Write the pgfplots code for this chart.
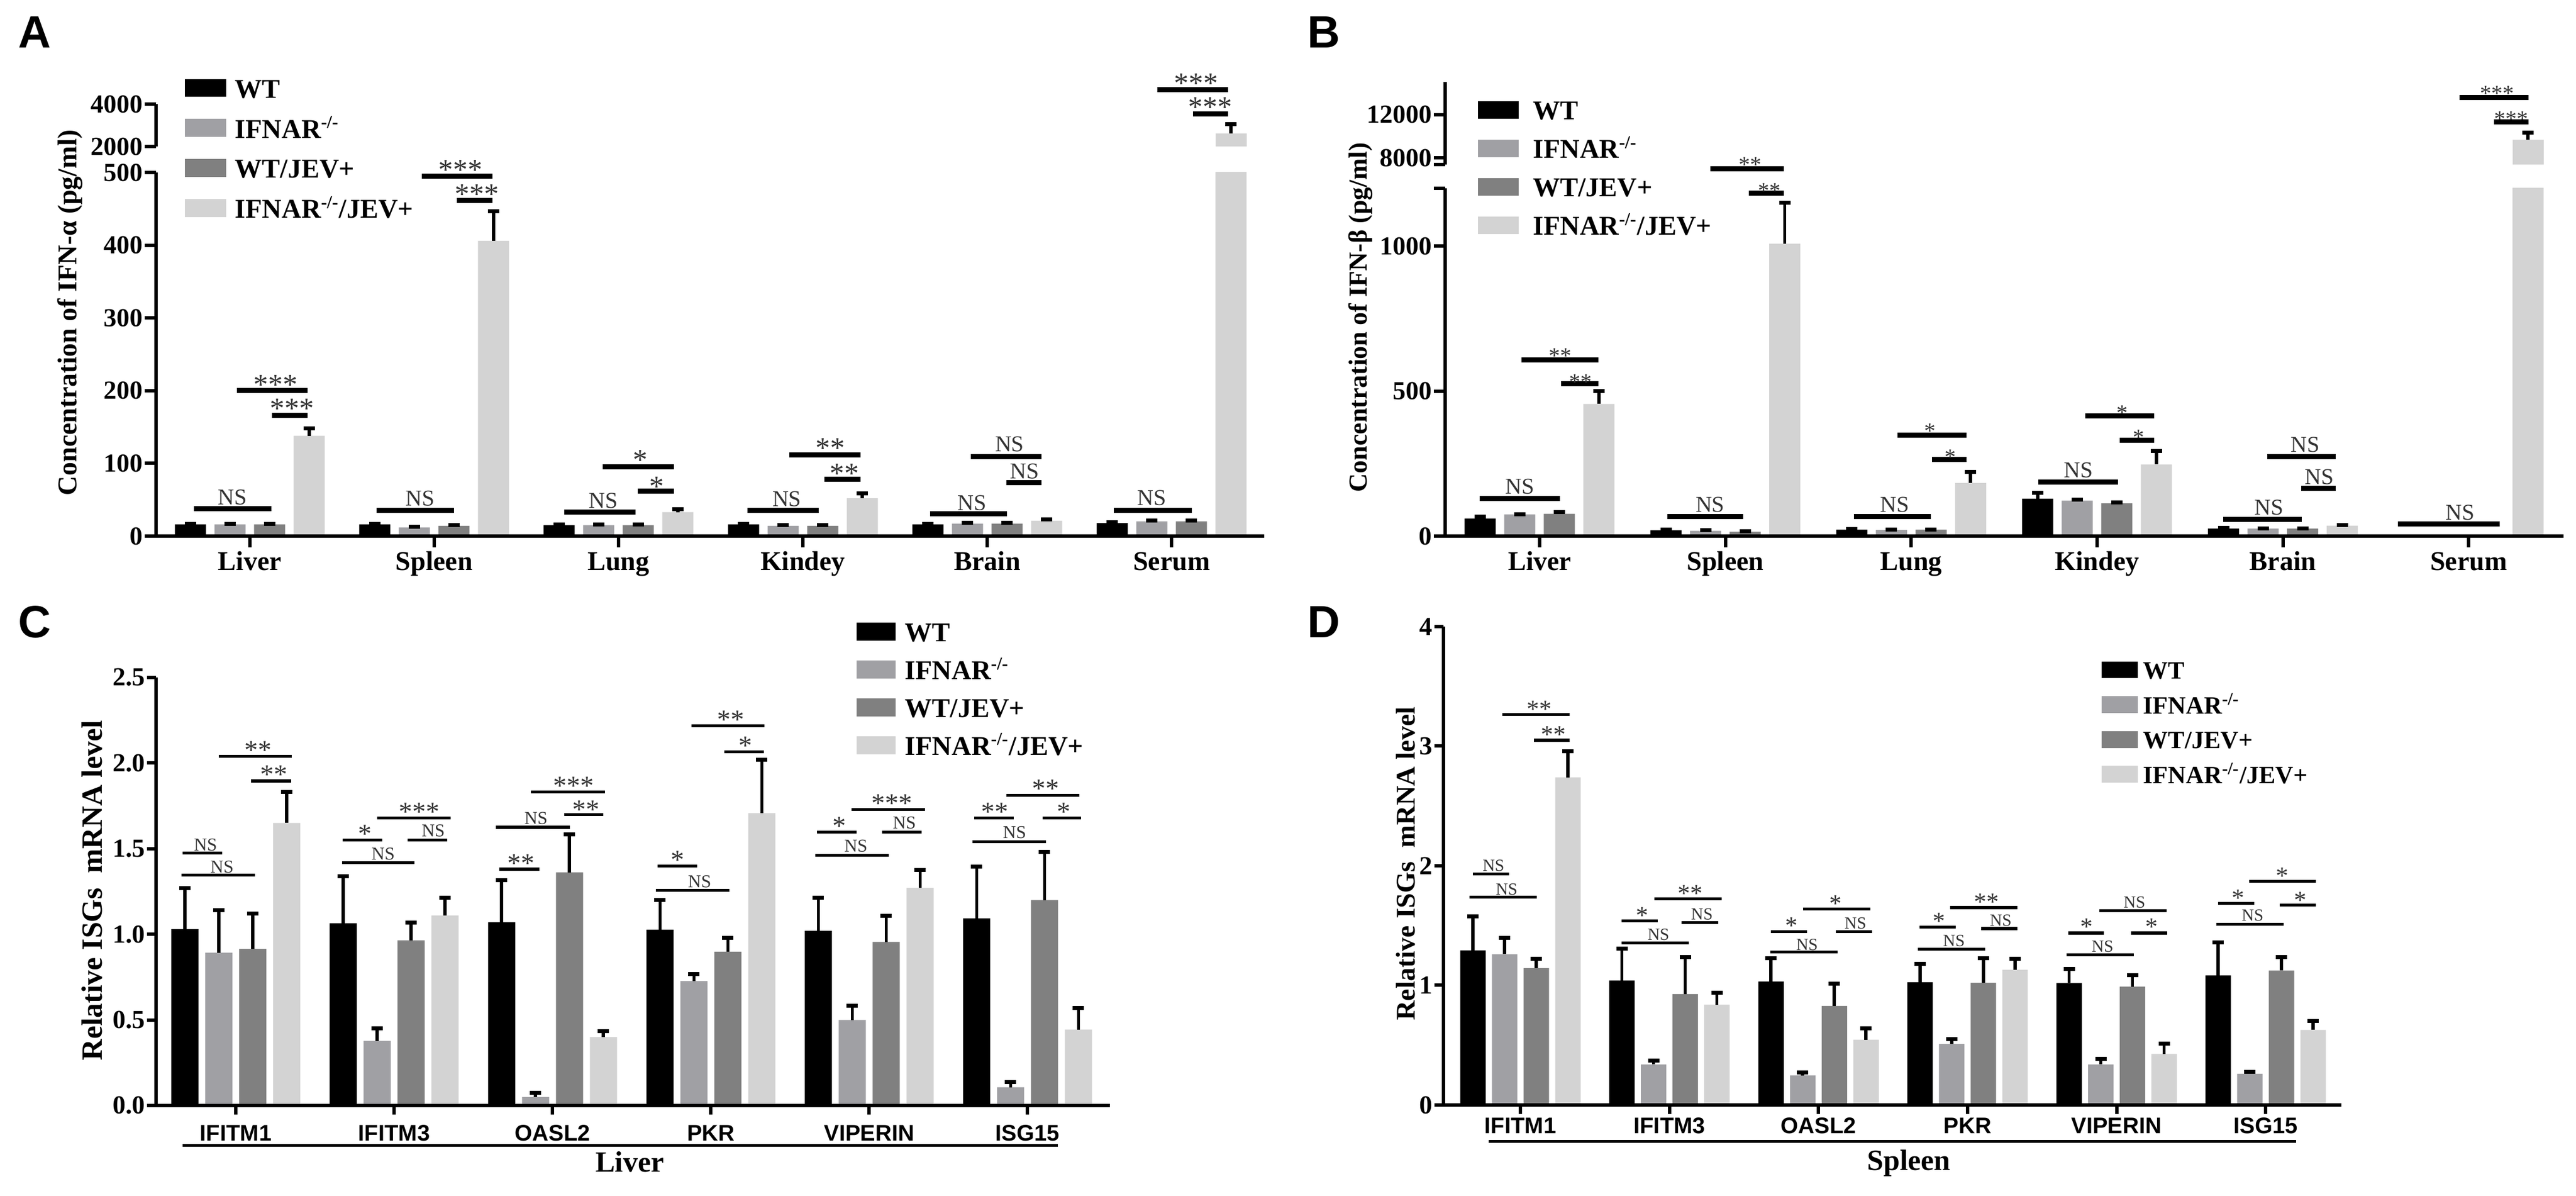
\documentclass[border=0pt]{standalone}
\usepackage{fontspec}
\setmainfont{Liberation Serif}
\setsansfont{Liberation Sans}
\usepackage{pgfplots}
\usepackage{pgfplotstable}
\pgfplotsset{compat=1.18}
\definecolor{cA}{HTML}{000000}
\definecolor{cB}{HTML}{A0A0A4}
\definecolor{cC}{HTML}{808080}
\definecolor{cD}{HTML}{D3D3D3}
\pgfplotstableread{
x wt wtE ko koE wj wjE kj kjE
0 16 1 16 1 16 1 138 10
1 16 1 12 1 14 1 406 41
2 15 1 15 1 15 1 33 4
3 16 1 14 1 14 1 52 7
4 16 1 17 1 17 1 21 2
5 18 1 20 1.5 20 1 2613 427
}\tabA
\pgfplotstableread{
x wt wtE ko koE wj wjE kj kjE
0 60 7 75 1 77 6 456 44
1 20 3 18 3 15 1 1009 142
2 22 3 21 1 22 1 183 39
3 129 20 122 4 113 4 247 47
4 26 2 26 1 26 1 36 2
5 nan nan nan nan nan nan 9700 636
}\tabB
\pgfplotstableread{
x wt wtE ko koE wj wjE kj kjE
0 1.03 0.24 0.893 0.247 0.915 0.205 1.65 0.18
1 1.065 0.275 0.378 0.072 0.965 0.102 1.11 0.105
2 1.07 0.245 0.05 0.023 1.362 0.22 0.40 0.033
3 1.027 0.173 0.727 0.04 0.898 0.082 1.707 0.311
4 1.02 0.195 0.50 0.082 0.956 0.151 1.271 0.105
5 1.093 0.303 0.107 0.031 1.20 0.282 0.444 0.125
}\tabC
\pgfplotstableread{
x wt wtE ko koE wj wjE kj kjE
0 1.293 0.283 1.261 0.134 1.143 0.077 2.739 0.216
1 1.041 0.265 0.338 0.031 0.927 0.309 0.838 0.101
2 1.032 0.194 0.248 0.023 0.828 0.185 0.545 0.095
3 1.025 0.153 0.51 0.041 1.022 0.207 1.131 0.089
4 1.019 0.118 0.338 0.047 0.99 0.096 0.427 0.086
5 1.083 0.274 0.261 0.016 1.124 0.112 0.627 0.073
}\tabD
\newcommand{\fs}[1]{\fontsize{#1}{#1}\selectfont}
\pgfplotsset{
  sbar/.style={fill=#1,draw=none,
    error bars/.cd,y dir=plus,y explicit,
    error bar style={draw=black,line width=1.4pt},
    error mark options={rotate=90,draw=black,line width=1.75pt,mark size=2.5pt}},
  panel/.style={scale only axis,clip=true,axis on top,
    axis x line=bottom,axis y line=left,
    axis line style={-,line width=1.5pt,black},
    tick style={black,line width=1.5pt},
    tick align=outside,major tick length=5pt,
    minor tick num=0,ymin=0,scaled y ticks=false,
    yticklabel style={font=\bfseries\fs{11.5},inner sep=0.6pt},
    xticklabel style={inner sep=1pt},
    xtick={0,1,2,3,4,5}},
  upper/.style={scale only axis,clip=true,
    axis x line=none,axis y line=left,scaled y ticks=false,
    axis line style={-,line width=1.5pt,black},
    tick style={black,line width=1.5pt},
    tick align=outside,major tick length=5pt,
    yticklabel style={font=\bfseries\fs{11.5},inner sep=0.6pt},
    xtick=\empty},
  over/.style={scale only axis,hide axis,clip=false,
    xmin=0,xmax=1568,ymin=0,ymax=1568,y dir=reverse,
    legend cell align=left},
  lg/.style n args={5}{legend style={at={(#1,#2)},anchor=north west,draw=none,fill=none,
      inner sep=0pt,outer sep=0pt,column sep=#5,row sep=#4,
      font=\bfseries\fs{#3},
      nodes={inner sep=0pt,outer sep=0pt,text height=0.75*#3 pt,text depth=0.2*#3 pt}}},
}
\newcommand{\four}[1]{%
  \addplot[sbar=cA] table[x=x,y=wt,y error=wtE]{#1};
  \addplot[sbar=cB] table[x=x,y=ko,y error=koE]{#1};
  \addplot[sbar=cC] table[x=x,y=wj,y error=wjE]{#1};
  \addplot[sbar=cD] table[x=x,y=kj,y error=kjE]{#1};}
\newcommand{\topbar}[3]{%
  \addplot[bar shift=#3,restrict y to domain=#2:100000,sbar=cD] table[x=x,y=kj,y error=kjE]{#1};}
% swatch: width, height; centred a little below the baseline
\newcommand{\legs}[3]{%
  \addlegendimage{legend image code/.code={\fill[cA] (0pt,#3) rectangle (#1,#2);}}
  \addlegendentry{WT}
  \addlegendimage{legend image code/.code={\fill[cB] (0pt,#3) rectangle (#1,#2);}}
  \addlegendentry{IFNAR\textsuperscript{-/-}}
  \addlegendimage{legend image code/.code={\fill[cC] (0pt,#3) rectangle (#1,#2);}}
  \addlegendentry{WT/JEV+}
  \addlegendimage{legend image code/.code={\fill[cD] (0pt,#3) rectangle (#1,#2);}}
  \addlegendentry{IFNAR\textsuperscript{-/-}/JEV+}}
% x1 x2 y label lx ly
\newcommand{\st}[6]{\draw[line width=\brw] (axis cs:#1,#3)--(axis cs:#2,#3);
  \node[anchor=base,inner sep=0pt,text=black!80,font=\fs{\stsize},yshift=-0.47*\stsize pt] at (axis cs:#5,#6) {#4};}
\newcommand{\ns}[6]{\draw[line width=\brw] (axis cs:#1,#3)--(axis cs:#2,#3);
  \node[anchor=base,inner sep=0pt,text=black!80,font=\fs{\nssize},yshift=-0.33*\nssize pt] at (axis cs:#5,#6) {#4};}
\begin{document}
\begin{tikzpicture}
\path[use as bounding box] (0,0) rectangle (1139pt,528.75pt);
%---------- A
\begin{axis}[panel,at={(69pt,291.75pt)},anchor=south west,width=490pt,height=160.75pt,
  xmin=-0.509,xmax=5.503,ymax=500,ybar=3.75pt,bar width=13.75pt,
  ytick={0,100,200,300,400,500},yticklabels={0,100,200,300,400,500},
  xticklabels={Liver,Spleen,Lung,Kindey,Brain,Serum},
  xticklabel style={font=\bfseries\fs{12},text height=9pt,text depth=2.5pt,inner sep=1pt}]
\four{\tabA}
\end{axis}
\begin{axis}[upper,at={(69pt,464pt)},anchor=south west,width=490pt,height=18.75pt,
  xmin=-0.509,xmax=5.503,ymin=2000,ymax=4000,ybar=3.75pt,bar width=13.75pt,
  ytick={2000,4000},yticklabels={2000,4000}]
\topbar{\tabA}{2000}{26.25pt}
\end{axis}
\def\brw{2.25pt}\def\stsize{13}\def\nssize{10}
\begin{axis}[over,at={(0pt,263.75pt)},anchor=south west,width=570pt,height=265pt,
  lg={0.1435}{0.8705}{12}{6.3pt}{4pt}]
\legs{17.75pt}{4.9pt}{-2.6pt}
\node[anchor=base west,inner sep=0pt,font=\sffamily\bfseries\fs{20}] at (axis cs:22,125) {A};
\node[rotate=90,inner sep=0pt,font=\bfseries\fs{12}] at (axis cs:85,818) {Concentration of IFN-α (pg/ml)};
\ns{236}{330}{1330}{NS}{283}{1300}
\st{288}{374}{1022}{***}{335}{995}
\st{331}{374}{1086}{***}{355}{1058}
\ns{458}{552}{1335}{NS}{511}{1303}
\st{513}{599}{461}{***}{560}{433}
\st{556}{599}{525}{***}{580}{497}
\ns{686}{773}{1340}{NS}{734}{1310}
\st{733}{820}{1221}{*}{779}{1192}
\st{776}{820}{1285}{*}{799}{1262}
\ns{909}{996}{1335}{NS}{957}{1305}
\st{960}{1047}{1190}{**}{1010}{1162}
\st{1003}{1047}{1254}{**}{1027}{1228}
\ns{1131}{1225}{1344}{NS}{1182}{1315}
\ns{1181}{1267}{1194}{NS}{1228}{1162}
\ns{1224}{1267}{1262}{NS}{1246}{1233}
\ns{1355}{1450}{1335}{NS}{1401}{1302}
\st{1408}{1494}{235}{***}{1455}{207}
\st{1451}{1494}{298}{***}{1472}{270}
\end{axis}
%---------- B
\begin{axis}[panel,at={(639pt,291.75pt)},anchor=south west,width=494.5pt,height=153.75pt,
  xmin=-0.508,xmax=5.511,ymax=1200,ybar=3.75pt,bar width=13.75pt,
  ytick={0,500,1000,1200},yticklabels={0,500,1000,},
  xticklabels={Liver,Spleen,Lung,Kindey,Brain,Serum},
  xticklabel style={font=\bfseries\fs{12},text height=9pt,text depth=2.5pt,inner sep=1pt}]
\four{\tabB}
\end{axis}
\begin{axis}[upper,at={(639pt,456pt)},anchor=south west,width=494.5pt,height=36.5pt,
  xmin=-0.508,xmax=5.511,ymin=7400,ymax=15000,ybar=3.75pt,bar width=13.75pt,
  ytick={7400,8000,12000},yticklabels={,8000,12000}]
\topbar{\tabB}{7400}{26.25pt}
\end{axis}
\def\brw{2.25pt}\def\stsize{10}\def\nssize{10}
\begin{axis}[over,at={(570pt,263.75pt)},anchor=south west,width=569pt,height=265pt,
  lg={0.1467}{0.834}{12}{5.6pt}{6.5pt}]
\legs{17.5pt}{4.8pt}{-2.5pt}
\node[anchor=base west,inner sep=0pt,font=\sffamily\bfseries\fs{20}] at (axis cs:22,125) {B};
\node[rotate=90,inner sep=0pt,font=\bfseries\fs{11.5}] at (axis cs:87,830) {Concentration of IFN-β (pg/ml)};
\ns{232}{330}{1304}{NS}{281}{1272}
\st{283}{377}{941}{**}{330}{922}
\st{331}{377}{1004}{**}{355}{990}
\ns{461}{553}{1351}{NS}{513}{1320}
\st{513}{603}{441}{**}{562}{423}
\st{560}{603}{505}{**}{585}{490}
\ns{688}{782}{1351}{NS}{738}{1320}
\st{741}{825}{1138}{*}{781}{1120}
\st{783}{825}{1202}{*}{806}{1188}
\ns{913}{1010}{1261}{NS}{962}{1230}
\st{970}{1054}{1088}{*}{1015}{1072}
\st{1012}{1054}{1151}{*}{1035}{1136}
\ns{1138}{1234}{1359}{NS}{1194}{1328}
\ns{1192}{1275}{1194}{NS}{1238}{1163}
\ns{1233}{1275}{1278}{NS}{1255}{1247}
\ns{1351}{1475}{1371}{NS}{1427}{1340}
\st{1426}{1510}{255}{***}{1472}{237}
\st{1468}{1510}{319}{***}{1489}{303}
\end{axis}
%---------- C
\begin{axis}[panel,at={(69pt,40pt)},anchor=south west,width=421.75pt,height=189.25pt,
  xmin=-0.504,xmax=5.52,ymax=2.5,ybar=3pt,bar width=12pt,major tick length=4pt,
  ytick={0,0.5,1,1.5,2,2.5},yticklabels={0.0,0.5,1.0,1.5,2.0,2.5},
  xticklabels={IFITM1,IFITM3,OASL2,PKR,VIPERIN,ISG15},
  xticklabel style={font=\sffamily\bfseries\fs{10},text height=7.5pt,text depth=0pt,inner sep=4pt}]
\four{\tabC}
\end{axis}
\def\brw{1.3pt}\def\stsize{12}\def\nssize{8}
\begin{axis}[over,at={(0pt,0pt)},anchor=south west,width=570pt,height=263.75pt,
  lg={0.6645}{0.9633}{12}{5.3pt}{4.25pt}]
\legs{16.75pt}{4.8pt}{-2.7pt}
\node[anchor=base west,inner sep=0pt,font=\sffamily\bfseries\fs{20}] at (axis cs:22,100) {C};
\node[rotate=90,inner sep=0pt,font=\bfseries\fs{13}] at (axis cs:112,765) {Relative ISGs\ \ mRNA level};
\draw[line width=1.3pt] (axis cs:222,1435)--(axis cs:1287,1435);
\node[inner sep=0pt,font=\bfseries\fs{13}] at (axis cs:766,1478) {Liver};
\ns{222}{270}{667}{NS}{250}{645}
\ns{221}{310}{725}{NS}{270}{703}
\st{266}{355}{412}{**}{314}{387}
\st{305}{354}{477}{**}{333}{450}
\st{417}{465}{633}{*}{444}{606}
\ns{416}{504}{692}{NS}{466}{668}
\st{459}{548}{574}{***}{510}{548}
\ns{496}{544}{633}{NS}{527}{608}
\ns{603}{693}{599}{NS}{652}{575}
\st{607}{656}{709}{**}{634}{683}
\st{646}{736}{506}{***}{698}{480}
\st{686}{734}{566}{**}{713}{543}
\st{800}{848}{701}{*}{824}{675}
\ns{798}{887}{765}{NS}{851}{741}
\st{841}{930}{332}{**}{889}{306}
\st{881}{929}{400}{*}{907}{374}
\st{994}{1042}{612}{*}{1021}{585}
\ns{992}{1081}{672}{NS}{1041}{648}
\st{1036}{1125}{552}{***}{1085}{526}
\ns{1073}{1121}{612}{NS}{1100}{587}
\st{1185}{1233}{574}{**}{1210}{548}
\ns{1183}{1272}{637}{NS}{1234}{613}
\st{1224}{1313}{515}{**}{1272}{488}
\st{1268}{1315}{574}{*}{1294}{548}
\end{axis}
%---------- D
\begin{axis}[panel,at={(638.25pt,40.25pt)},anchor=south west,width=397pt,height=211.5pt,
  xmin=-0.516,xmax=5.508,ymax=4,ybar=2.75pt,bar width=11.25pt,major tick length=4pt,
  ytick={0,1,2,3,4},yticklabels={0,1,2,3,4},
  xticklabels={IFITM1,IFITM3,OASL2,PKR,VIPERIN,ISG15},
  xticklabel style={font=\sffamily\bfseries\fs{10},text height=7.5pt,text depth=0pt,inner sep=1pt}]
\four{\tabD}
\end{axis}
\def\brw{1.3pt}\def\stsize{11}\def\nssize{7.5}
\begin{axis}[over,at={(570pt,0pt)},anchor=south west,width=569pt,height=263.75pt,
  lg={0.6314}{0.898}{11}{4.95pt}{2.5pt}]
\legs{15.5pt}{4.5pt}{-2.5pt}
\node[anchor=base west,inner sep=0pt,font=\sffamily\bfseries\fs{20}] at (axis cs:22,100) {D};
\node[rotate=90,inner sep=0pt,font=\bfseries\fs{12}] at (axis cs:142,695) {Relative ISGs\ \ mRNA level};
\draw[line width=1.3pt] (axis cs:243,1425)--(axis cs:1227,1425);
\node[inner sep=0pt,font=\bfseries\fs{13}] at (axis cs:755,1482) {Spleen};
\ns{224}{268}{721}{NS}{249}{700}
\ns{220}{302}{783}{NS}{265}{762}
\st{260}{342}{303}{**}{305}{279}
\st{298}{342}{370}{**}{322}{346}
\st{405}{449}{845}{*}{430}{822}
\ns{405}{487}{903}{NS}{450}{881}
\st{445}{527}{787}{**}{489}{763}
\ns{478}{523}{850}{NS}{503}{827}
\st{587}{631}{873}{*}{612}{849}
\ns{586}{668}{927}{NS}{631}{908}
\st{626}{708}{814}{*}{666}{791}
\ns{666}{710}{873}{NS}{690}{851}
\st{768}{812}{861}{*}{792}{836}
\ns{766}{848}{919}{NS}{810}{897}
\st{805}{887}{810}{**}{850}{786}
\ns{843}{887}{865}{NS}{867}{843}
\st{949}{993}{877}{*}{972}{852}
\ns{947}{1029}{934}{NS}{991}{912}
\ns{987}{1069}{818}{NS}{1030}{796}
\st{1026}{1070}{877}{*}{1051}{852}
\st{1132}{1176}{799}{*}{1156}{775}
\ns{1130}{1212}{854}{NS}{1174}{830}
\st{1170}{1251}{741}{*}{1210}{717}
\st{1207}{1251}{803}{*}{1232}{781}
\end{axis}
\end{tikzpicture}
\end{document}
